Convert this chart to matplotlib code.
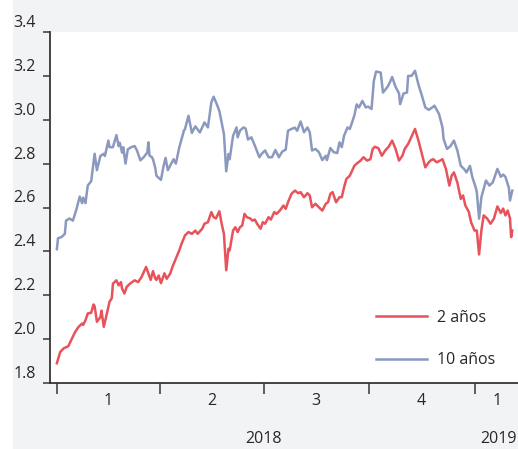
import matplotlib
matplotlib.use("Agg")
import matplotlib.pyplot as plt
import matplotlib.transforms as mtransforms
from matplotlib.patches import Rectangle
import pandas as pd

plt.rcParams['font.family'] = ['Open Sans', 'DejaVu Sans']

# ---- data (days since 2018-01-01, yield %) ----
ten_days = [0, 1, 4, 7, 8, 11, 14, 17, 20, 22, 23, 25, 27, 30, 33, 35, 38, 41, 42, 45,
            46, 49, 52, 54, 55, 57, 58, 60, 62, 65, 68, 70, 73, 76, 79, 80, 81, 83, 84, 86,
            87, 89, 91, 93, 95, 97, 99, 102, 104, 107, 111, 112, 115, 118, 121, 125, 129, 132, 135, 137,
            140, 142, 146, 148, 150, 151, 154, 157, 158, 160, 163, 165, 167, 170, 173, 177, 179, 182, 185, 188,
            191, 194, 197, 200, 202, 205, 208, 210, 213, 216, 219, 221, 223, 226, 229, 232, 235, 236, 239, 242,
            245, 247, 249, 251, 254, 256, 258, 260, 262, 264, 267, 270, 272, 275, 277, 279, 283, 285, 289, 291,
            293, 296, 299, 300, 303, 306, 307, 310, 313, 316, 319, 322, 325, 328, 330, 334, 337, 338, 341, 344,
            347, 350, 353, 356, 358, 361, 363, 366, 367, 369, 371, 375, 378, 381, 385, 388, 390, 392, 395, 396,
            398]
ten_yield = [2.41, 2.46, 2.465, 2.48, 2.54, 2.55, 2.54, 2.59, 2.65, 2.62, 2.645, 2.62, 2.70, 2.72, 2.845, 2.77, 2.835, 2.845, 2.835, 2.905,
             2.875, 2.875, 2.93, 2.88, 2.895, 2.85, 2.875, 2.80, 2.865, 2.875, 2.88, 2.86, 2.815, 2.83, 2.85, 2.897, 2.836, 2.83, 2.82, 2.78,
             2.745, 2.735, 2.726, 2.783, 2.826, 2.77, 2.79, 2.82, 2.80, 2.874, 2.95, 2.958, 3.018, 2.94, 2.97, 2.942, 2.988, 2.965, 3.079, 3.105,
             3.068, 3.04, 2.935, 2.765, 2.844, 2.82, 2.927, 2.965, 2.92, 2.95, 2.965, 2.96, 2.91, 2.92, 2.882, 2.829, 2.845, 2.86, 2.829, 2.829,
             2.862, 2.829, 2.855, 2.864, 2.95, 2.958, 2.964, 2.95, 2.992, 2.943, 2.965, 2.943, 2.86, 2.867, 2.852, 2.816, 2.836, 2.816, 2.871, 2.852,
             2.848, 2.897, 2.875, 2.927, 2.965, 2.958, 2.988, 3.02, 3.07, 3.056, 3.086, 3.056, 3.06, 3.049, 3.177, 3.22, 3.215, 3.124, 3.15, 3.17,
             3.195, 3.15, 3.12, 3.071, 3.12, 3.124, 3.2, 3.2, 3.223, 3.16, 3.11, 3.056, 3.045, 3.056, 3.064, 3.026, 2.965, 2.912, 2.867, 2.88,
             2.905, 2.86, 2.79, 2.775, 2.76, 2.79, 2.74, 2.692, 2.67, 2.549, 2.647, 2.723, 2.70, 2.715, 2.776, 2.74, 2.75, 2.74, 2.69, 2.632,
             2.677]

two_days = [0, 3, 6, 10, 13, 16, 19, 22, 23, 25, 27, 30, 32, 33, 35, 38, 39, 41, 43, 46,
            48, 49, 52, 54, 56, 57, 59, 61, 64, 68, 71, 74, 76, 78, 82, 84, 86, 87, 89, 91,
            94, 96, 99, 101, 104, 107, 109, 112, 115, 118, 121, 123, 127, 129, 132, 135, 137, 139, 142, 144,
            146, 148, 150, 151, 154, 156, 158, 160, 162, 164, 166, 169, 171, 173, 175, 178, 180, 182, 185, 187,
            190, 192, 195, 198, 200, 202, 205, 208, 211, 213, 216, 219, 221, 223, 226, 229, 232, 235, 237, 239,
            241, 244, 247, 249, 251, 253, 256, 258, 260, 262, 265, 268, 271, 274, 276, 278, 281, 284, 287, 290,
            293, 296, 299, 302, 304, 307, 309, 313, 316, 319, 322, 325, 327, 329, 332, 335, 337, 340, 343, 345,
            347, 350, 353, 355, 357, 360, 362, 365, 367, 369, 371, 373, 376, 379, 382, 385, 388, 390, 392, 394,
            396, 397, 398]
two_yield = [1.89, 1.942, 1.958, 1.968, 2.0, 2.033, 2.056, 2.071, 2.065, 2.086, 2.117, 2.12, 2.158, 2.15, 2.079, 2.10, 2.13, 2.056, 2.10, 2.17,
             2.187, 2.253, 2.268, 2.245, 2.26, 2.23, 2.208, 2.238, 2.253, 2.268, 2.26, 2.283, 2.306, 2.329, 2.27, 2.31, 2.276, 2.27, 2.29, 2.255,
             2.30, 2.275, 2.298, 2.329, 2.367, 2.405, 2.435, 2.473, 2.488, 2.48, 2.495, 2.48, 2.503, 2.526, 2.533, 2.579, 2.556, 2.55, 2.583, 2.526,
             2.48, 2.314, 2.412, 2.405, 2.495, 2.51, 2.488, 2.51, 2.518, 2.571, 2.556, 2.55, 2.54, 2.545, 2.526, 2.503, 2.533, 2.526, 2.556, 2.545,
             2.579, 2.571, 2.587, 2.609, 2.594, 2.624, 2.662, 2.677, 2.665, 2.67, 2.647, 2.665, 2.655, 2.601, 2.617, 2.601, 2.586, 2.617, 2.624, 2.662,
             2.67, 2.624, 2.647, 2.647, 2.692, 2.73, 2.745, 2.768, 2.79, 2.80, 2.812, 2.829, 2.814, 2.82, 2.867, 2.877, 2.87, 2.836, 2.86, 2.877,
             2.905, 2.867, 2.814, 2.836, 2.867, 2.89, 2.912, 2.958, 2.905, 2.844, 2.783, 2.806, 2.816, 2.82, 2.806, 2.814, 2.82, 2.776, 2.70, 2.745,
             2.76, 2.714, 2.639, 2.655, 2.609, 2.58, 2.533, 2.495, 2.495, 2.386, 2.495, 2.564, 2.55, 2.526, 2.55, 2.605, 2.575, 2.595, 2.564, 2.586,
             2.55, 2.465, 2.495]

series_labels = ["2 años", "10 años"]
quarter_labels = ["1", "2", "3", "4", "1"]
year_labels = ["2018", "2019"]
y_ticks = [1.8, 2.0, 2.2, 2.4, 2.6, 2.8, 3.0, 3.2, 3.4]

start = pd.Timestamp("2018-01-01")
two_dates = [start + pd.Timedelta(days=d) for d in two_days]
ten_dates = [start + pd.Timedelta(days=d) for d in ten_days]

RED = "#e8525a"
BLUE = "#8b99be"
TXT = "#2a2626"
AX = "#3a3432"
BG = "#f2f3f5"

W, H = 518, 449
fig = plt.figure(figsize=(W / 100, H / 100), dpi=100, facecolor=BG)
fig.patches.append(Rectangle((0, 0), 13 / W, 1, transform=fig.transFigure,
                             facecolor="white", edgecolor="none", zorder=0))

ax = fig.add_axes([50 / W, 1 - 383 / H, (W - 50) / W, (383 - 32) / H])
ax.set_facecolor("white")

ax.plot(two_dates, two_yield, color=RED, lw=1.8, label=series_labels[0], solid_joinstyle="round")
ax.plot(ten_dates, ten_yield, color=BLUE, lw=1.8, label=series_labels[1], solid_joinstyle="round")

ax.set_ylim(1.8, 3.4)
ax.set_xlim(pd.Timestamp("2017-12-26"), pd.Timestamp("2019-02-08"))

for s in ["top", "right"]:
    ax.spines[s].set_visible(False)
for s in ["left", "bottom"]:
    ax.spines[s].set_color(AX)
    ax.spines[s].set_linewidth(1.3)

fs = 11.5
ax.set_yticks(y_ticks)
ax.set_yticklabels([f"{v:.1f}" for v in y_ticks])
ax.tick_params(axis="y", direction="out", length=5, width=1.1, color=AX,
               labelsize=fs, labelcolor=TXT, pad=5)
offset = mtransforms.ScaledTranslation(0, 11 / 100, fig.dpi_scale_trans)
for lab in ax.get_yticklabels():
    lab.set_transform(lab.get_transform() + offset)
    lab.set_fontweight("medium")

q_starts = pd.to_datetime(["2018-01-01", "2018-04-01", "2018-07-01", "2018-10-01", "2019-01-01"])
q_label_pos = pd.to_datetime(["2018-02-15", "2018-05-16", "2018-08-15", "2018-11-15", "2019-01-21"])
ax.set_xticks(q_starts)
ax.set_xticklabels([])
ax.tick_params(axis="x", direction="out", length=8, width=1.1, color=AX)
ax.set_xticks(q_label_pos, minor=True)
ax.set_xticklabels(quarter_labels, minor=True)
ax.tick_params(axis="x", which="minor", length=0, pad=7, labelsize=fs, labelcolor=TXT)
for lab in ax.get_xticklabels(minor=True):
    lab.set_fontweight("medium")

year_pos = pd.to_datetime(["2018-07-01", "2019-01-22"])
for pos, lab in zip(year_pos, year_labels):
    ax.text(pos, -0.16, lab, transform=ax.get_xaxis_transform(),
            ha="center", va="center", fontsize=fs, color=TXT, fontweight="medium")

leg = ax.legend(loc="upper left", bbox_to_anchor=(0.683, 0.226), frameon=False,
                handlelength=3.2, handletextpad=0.6, labelspacing=1.65,
                fontsize=fs, borderaxespad=0)
for t in leg.get_texts():
    t.set_color(TXT)
    t.set_fontweight("medium")

fig.savefig("out.png", dpi=100, facecolor=BG)
